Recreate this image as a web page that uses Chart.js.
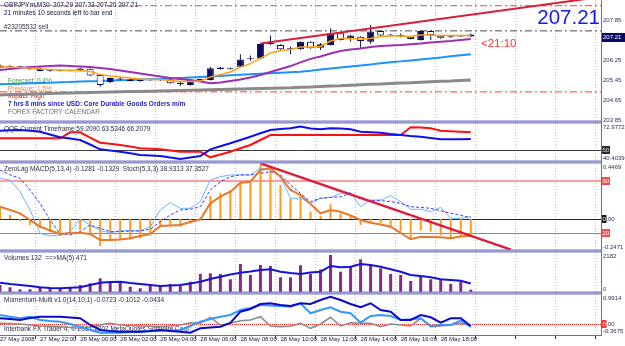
<!DOCTYPE html>
<html><head><meta charset="utf-8">
<script src="https://cdn.jsdelivr.net/npm/chart.js@4/dist/chart.umd.min.js"></script>
<style>html,body{margin:0;padding:0;background:#fff;overflow:hidden}canvas{display:block}</style>
</head><body>
<canvas id="c" width="625" height="346"></canvas>
<script>
// ---------- categories (30-minute bars) ----------
const times = ['27 May 20:00','27 May 20:30','27 May 21:00','27 May 21:30','27 May 22:00','27 May 22:30','27 May 23:00','27 May 23:30',
'28 May 00:00','28 May 00:30','28 May 01:00','28 May 01:30','28 May 02:00','28 May 02:30','28 May 03:00','28 May 03:30',
'28 May 04:00','28 May 04:30','28 May 05:00','28 May 05:30','28 May 06:00','28 May 06:30','28 May 07:00','28 May 07:30',
'28 May 08:00','28 May 08:30','28 May 09:00','28 May 09:30','28 May 10:00','28 May 10:30','28 May 11:00','28 May 11:30',
'28 May 12:00','28 May 12:30','28 May 13:00','28 May 13:30','28 May 14:00','28 May 14:30','28 May 15:00','28 May 15:30',
'28 May 16:00','28 May 16:30','28 May 17:00','28 May 17:30','28 May 18:00','28 May 18:30','28 May 19:00','28 May 19:30',
'28 May 20:00','28 May 20:30','28 May 21:00','28 May 21:30','28 May 22:00','28 May 22:30','28 May 23:00','28 May 23:30',
'29 May 00:00','29 May 00:30','29 May 01:00','29 May 01:30','29 May 02:00'];
const xTickText = ['27 May 2008','27 May 22:00','28 May 00:00','28 May 02:00','28 May 04:00','28 May 06:00','28 May 08:00','28 May 10:00','28 May 12:00','28 May 14:00','28 May 16:00','28 May 18:00'];

// ---------- price (GBPJPYm M30) ----------
const open  = [205.95,206.00,205.99,205.96,205.82,205.84,205.83,205.84,205.82,205.91,205.66,205.38,205.49,205.48,205.42,205.45,205.46,205.48,205.32,205.26,205.46,205.46,205.96,205.91,205.99,206.30,206.33,206.91,206.87,206.70,206.70,207.00,206.76,206.87,207.34,207.11,207.20,207.00,207.43,207.25,207.27,207.20,207.07,207.43,207.24,207.18,207.21,207.29];
const high  = [206.08,206.05,206.02,206.00,205.99,205.88,205.87,205.88,205.95,205.93,205.68,205.56,205.55,205.50,205.46,205.49,205.50,205.50,205.39,205.48,205.50,205.99,205.99,205.95,206.50,206.45,206.93,207.25,206.90,206.80,207.02,207.02,206.95,207.55,207.36,207.27,207.22,207.68,207.46,207.31,207.33,207.22,207.46,207.45,207.26,207.23,207.28,207.33];
const low   = [205.92,205.95,205.93,205.87,205.80,205.79,205.80,205.80,205.80,205.62,205.19,205.34,205.44,205.40,205.39,205.42,205.42,205.31,205.22,205.24,205.42,205.44,205.88,205.88,205.97,206.24,206.30,206.87,206.68,206.50,206.68,206.72,206.67,206.85,207.05,207.00,206.74,206.92,207.22,207.23,207.17,207.09,207.05,207.07,207.12,207.16,207.19,207.20];
const close = [206.04,205.99,205.97,205.90,205.90,205.83,205.84,205.83,205.92,205.64,205.26,205.54,205.48,205.42,205.43,205.46,205.45,205.33,205.30,205.46,205.47,205.93,205.90,205.92,206.29,206.33,206.91,206.92,206.70,206.71,207.00,206.74,206.90,207.34,207.07,207.25,207.03,207.41,207.25,207.28,207.23,207.11,207.43,207.27,207.14,207.20,207.26,207.21];

// moving averages on price
const maOrange = [205.98,205.98,205.96,205.94,205.90,205.88,205.86,205.84,205.84,205.80,205.68,205.62,205.58,205.54,205.50,205.48,205.48,205.44,205.40,205.40,205.42,205.58,205.68,205.78,205.98,206.12,206.33,206.55,206.65,206.69,206.79,206.79,206.81,207.03,207.13,207.13,207.11,207.13,207.21,207.23,207.23,207.21,207.27,207.27,207.25,207.25,207.25,207.25];
const maPurple = [205.86,205.90,205.94,205.98,206.00,206.02,206.04,206.02,206.00,205.98,205.94,205.90,205.84,205.78,205.72,205.66,205.60,205.54,205.50,205.46,205.40,205.33,205.36,205.42,205.48,205.56,205.66,205.78,205.90,206.02,206.17,206.31,206.41,206.53,206.63,206.69,206.73,206.79,206.83,206.85,206.87,206.90,206.93,206.97,207.00,207.03,207.07,207.11];
const maBlue   = [205.29,205.30,205.31,205.33,205.34,205.35,205.37,205.38,205.40,205.41,205.42,205.44,205.45,205.46,205.48,205.49,205.50,205.52,205.54,205.56,205.58,205.60,205.62,205.65,205.67,205.69,205.71,205.73,205.75,205.77,205.79,205.83,205.88,205.92,205.96,206.00,206.04,206.08,206.13,206.17,206.21,206.25,206.29,206.33,206.37,206.42,206.46,206.50];
const maGray   = [204.85,204.87,204.87,204.89,204.90,204.91,204.92,204.93,204.94,204.95,204.96,204.97,204.98,204.99,205.00,205.01,205.02,205.03,205.04,205.05,205.06,205.07,205.08,205.09,205.10,205.11,205.12,205.13,205.14,205.15,205.17,205.18,205.20,205.22,205.23,205.25,205.27,205.29,205.30,205.32,205.34,205.35,205.37,205.39,205.41,205.42,205.44,205.46];

// chart objects on price window: [barIndex, price]
const priceTrend = [[26, 206.93], [60, 208.81]];
const priceLevels = [208.455, 204.98];   // red dash-dot lines
const orderLevel = 207.44;               // #23205532 sell
const priceTicks = [207.85, 207.05, 206.25, 205.45, 204.65, 203.85];
const lastPrice = 207.21;

// ---------- QQE ----------
const qqeFast = [66.38,66.72,66.98,66.30,65.52,63.12,60.72,59.61,58.41,54.55,50.44,49.41,48.38,47.01,45.56,45.13,44.70,43.41,42.13,43.41,44.70,50.44,53.01,55.58,58.41,61.24,64.15,66.98,67.84,68.44,69.98,68.27,67.58,68.44,68.27,67.58,65.52,65.10,64.67,63.55,62.70,61.84,61.24,60.12,59.01,59.01,59.10,59.21];
const qqeSlow = [59.87,59.87,59.87,59.87,59.87,59.87,59.87,65.01,65.01,60.50,56.10,55.15,54.13,52.75,51.30,50.87,50.44,49.41,48.38,48.38,48.38,43.58,45.98,48.38,51.30,54.13,58.41,62.70,62.70,62.70,62.70,62.70,62.70,62.70,62.70,62.70,62.70,62.70,62.70,62.70,62.70,69.29,69.12,68.44,66.38,65.95,65.44,65.01];
const qqeLevels = [50];
const qqeLabels = ['72.9772', '40.4039'];

// ---------- ZeroLag MACD + Stoch ----------
const macdHist = [0.0854,0.0319,-0.0160,-0.0479,-0.0742,-0.1013,-0.1356,-0.1141,-0.0877,-0.1197,-0.2154,-0.1675,-0.1675,-0.1619,-0.1540,-0.1141,-0.0479,-0.0479,-0.0614,-0.0295,0.0080,0.1835,0.2098,0.2313,0.2848,0.2975,0.4308,0.3909,0.2712,0.1651,0.1914,0.0582,0.0239,0.1173,0.0455,0.0319,-0.0479,-0.0215,-0.0343,-0.0614,-0.1013,-0.1675,-0.0933,-0.1013,-0.1276,-0.1540,-0.1412,-0.1281];
const macdSignal = [0.0981,0.0718,0.0455,-0.0080,-0.0614,-0.0917,-0.1197,-0.1141,-0.1093,-0.1197,-0.1675,-0.1675,-0.1635,-0.1540,-0.1356,-0.1197,-0.0558,-0.0519,-0.0479,-0.0239,-0.0024,0.1252,0.1779,0.2178,0.2896,0.2975,0.3909,0.4068,0.3374,0.2313,0.1914,0.1197,0.0455,0.0718,0.0582,0.0279,-0.0080,-0.0295,-0.0439,-0.0614,-0.1117,-0.1619,-0.1412,-0.1436,-0.1460,-0.1540,-0.1396,-0.1329];
const stochMain = [83.0,81.1,67.6,46.5,19.6,16.5,17.6,21.5,35.8,29.2,22.6,20.3,22.6,22.6,22.3,27.2,46.5,54.9,48.4,48.4,56.1,81.1,84.9,86.9,86.9,86.9,94.6,92.6,84.9,60.0,60.0,54.2,60.0,61.1,65.7,66.4,50.3,58.0,58.0,63.0,56.1,47.3,47.3,44.5,49.6,36.9,36.9,38.93];
const stochSignal = [92.6,86.9,83.0,69.6,54.2,34.9,18.8,17.6,21.5,29.2,25.4,21.5,21.5,22.3,22.3,24.2,33.0,40.7,46.5,47.3,50.3,69.6,79.1,84.9,86.9,86.9,88.8,90.7,86.9,75.3,65.7,56.1,60.0,60.9,61.8,65.7,58.8,57.2,57.2,56.1,54.2,50.3,49.4,48.4,45.6,42.7,40.4,37.35];
const macdTrend = [[26, 0.444], [51, -0.244]];
const stochLevels = [80, 20];
const macdLabels = ['0.4469', '-0.2471'];

// ---------- Volumes ----------
const volumes = [392,263,151,151,263,207,207,263,392,487,767,576,520,297,207,336,297,448,336,576,1007,1046,1007,711,1567,951,1511,1455,822,822,1494,1007,1259,2070,1136,1455,1830,1511,1326,1007,951,615,895,711,711,448,576,132];
const volumeMA = [520,448,392,336,263,224,207,235,263,392,520,560,576,504,448,392,336,364,392,476,576,727,856,979,1080,1147,1231,1270,1136,1063,1007,1091,1136,1455,1382,1416,1567,1511,1416,1270,1136,951,895,822,711,671,632,471];
const volLabels = ['2182', '0'];

// ---------- Momentum-Multi ----------
const momA = [0.186,0.162,0.129,0.196,0.239,0.239,0.239,0.212,0.186,-0.036,-0.202,-0.235,-0.259,-0.259,-0.259,-0.235,-0.202,-0.235,-0.259,-0.292,-0.146,-0.119,-0.093,0.030,0.404,0.494,0.660,0.683,0.627,0.593,0.683,0.660,0.792,0.902,0.792,0.660,0.550,0.683,0.461,0.404,0.129,0.129,0.295,0.219,0.040,0.186,0.186,-0.0723];
const momB = [0.295,0.239,0.186,0.239,0.129,0.096,0.073,-0.003,-0.093,-0.202,-0.292,-0.292,-0.292,-0.268,-0.259,-0.242,-0.225,-0.212,-0.202,-0.070,0.073,0.162,0.239,0.295,0.461,0.527,0.627,0.610,0.593,0.570,0.683,0.351,0.461,0.550,0.404,0.351,0.040,0.262,0.295,0.262,0.129,0.152,0.186,-0.070,-0.036,-0.036,0.106,-0.1012];
const momC = [0.020,0.010,-0.003,-0.036,-0.070,-0.080,-0.093,-0.119,-0.146,-0.103,-0.036,0.020,-0.036,-0.053,-0.070,-0.080,-0.093,-0.070,-0.036,0.040,0.020,0.219,-0.036,0.020,0.106,0.129,0.239,-0.070,-0.093,-0.080,0.020,-0.146,-0.003,0.219,-0.070,0.040,0.020,0.020,-0.093,-0.003,-0.036,-0.070,0.186,-0.093,-0.070,-0.036,0.020,-0.0434];
const momLabels = ['0.9914', '-0.3675'];

// ---------- texts ----------
const headerLines = ['GBPJPYm,M30  207.29 207.33 207.20 207.21', '21 minutes 10 seconds left to bar end'];
const orderText = '#23205532 sell';
const newsLines = ['Forecast: 0.4%', 'Previous: 1.5%', 'Impact: High', '7 hrs 8 mins since USD: Core Durable Goods Orders m/m', 'FOREX FACTORY CALENDAR'];
const paneTitles = ['QQE Current Timeframe 59.2090 63.5346 66.2079', 'ZeroLag MACD(5,13,4) -0.1281 -0.1329  Stoch(5,3,3) 38.9313 37.3527', 'Volumes 132  ==>MA(5) 471', 'Momentum-Multi v1.0(14,10,1) -0.0723 -0.1012 -0.0434'];
const copyrightText = 'Interbank FX Trader 4, \u00a9 2001-2007 MetaQuotes Software Corp.';
const bigPriceText = '207.21';
const countdownText = '<21:10';

// ---------- build chart ----------
const FONT = '"Liberation Sans", Arial, sans-serif';
const AX = 6;   // axis label font size
const NAVY = '#0c0c5e';
const fullLine = v => times.map(() => v);
const segment = pts => { const a = times.map(() => null); pts.forEach(p => { a[p[0]] = p[1]; }); return a; };
const wicks = low.map((l, i) => [l, high[i]]);
const bodies = open.map((o, i) => [Math.min(o, close[i]), Math.max(o, close[i])]);

function line(data, color, width, axis, order, extra) {
  return Object.assign({type: 'line', data, borderColor: color, borderWidth: width, yAxisID: axis,
    pointRadius: 0, pointHoverRadius: 0, tension: 0, fill: false, order, spanGaps: false}, extra || {});
}
const fixW = sc => { sc.width = 24; sc.paddingTop = 0; sc.paddingBottom = 0; sc.paddingLeft = 0; sc.paddingRight = 0; };
function paneAxis(weight, min, max, extra) {
  return Object.assign({
    type: 'linear', position: 'right', stack: 'panes', stackWeight: weight, min, max, offset: false,
    grid: {display: false, drawTicks: false},
    border: {display: true, color: '#6b6bb3', width: 1},
    ticks: {display: false},
    afterFit: fixW
  }, extra || {});
}

function txt(ctx, s, x, y, color, size, weight, align, base) {
  ctx.font = (weight || 'normal') + ' ' + size + 'px ' + FONT;
  ctx.fillStyle = color;
  ctx.textAlign = align || 'left';
  ctx.textBaseline = base || 'middle';
  ctx.fillText(s, x, y);
}
function hline(ctx, scale, v, R, color, w, dash) {
  const y = Math.round(scale.getPixelForValue(v)) + (w % 2 ? 0.5 : 0);
  ctx.save(); ctx.strokeStyle = color; ctx.lineWidth = w; ctx.setLineDash(dash || []);
  ctx.beginPath(); ctx.moveTo(0, y); ctx.lineTo(R, y); ctx.stroke(); ctx.restore();
}
function levelBox(ctx, y, label, bg, fg, w) {
  ctx.fillStyle = bg; ctx.fillRect(602, Math.round(y) - 4, w, 8);
  txt(ctx, label, 602.5, Math.round(y) + 0.5, fg, AX);
}

const mtPlugin = {
  id: 'mt',
  afterLayout(chart) {
    const s = chart.scales;
    s.yStoch.top = s.yMacd.top; s.yStoch.bottom = s.yMacd.bottom;
    s.yStoch.height = s.yMacd.height;
    s.yStoch.configure();
  },
  beforeDatasetsDraw(chart) {
    const ctx = chart.ctx, s = chart.scales, R = s.x.right;
    ctx.save();
    // indicator levels
    qqeLevels.forEach(v => hline(ctx, s.yQqe, v, R, '#3a3a3a', 1));
    hline(ctx, s.yMacd, 0, R, '#262626', 1);
    hline(ctx, s.yStoch, stochLevels[0], R, '#ff9c9c', 2);
    hline(ctx, s.yStoch, stochLevels[1], R, '#ff5a5a', 1);
    hline(ctx, s.yMom, 0, R, '#ff2020', 1, [1, 1]);
    // main window texts
    txt(ctx, headerLines[0], 4, 5, '#101040', 6.5);
    txt(ctx, headerLines[1], 4, 13, '#101040', 6.5);
    txt(ctx, orderText, 4, 27, '#303040', 6.5);
    const newsCol = ['#3f9a3f', '#f08040', '#c82020', '#2424c8', '#707070'];
    newsLines.forEach((t, i) => txt(ctx, t, 8, 81.5 + i * 7.6, newsCol[i], 6.5, i === 3 ? 'bold' : 'normal'));
    // sub window titles
    [s.yQqe, s.yMacd, s.yVol, s.yMom].forEach((sc, i) => txt(ctx, paneTitles[i], 4, sc.top + 7.5, '#2a2a4a', 6.5));
    txt(ctx, copyrightText, 4, 329.5, '#2a2a4a', 6.5);
    ctx.restore();
  },
  afterDraw(chart) {
    const ctx = chart.ctx, s = chart.scales, R = s.x.right;
    ctx.save();
    // window separators
    [s.yQqe.top, s.yMacd.top, s.yVol.top, s.yMom.top].forEach(y => {
      ctx.fillStyle = '#7a7abf'; ctx.fillRect(0, Math.round(y) - 1.5, R, 3);
      ctx.fillStyle = '#b8b8e4'; ctx.fillRect(0, Math.round(y) - 0.5, R, 1);
    });
    // sub window scale extremes
    const lc = '#2e2e5c';
    [[s.yQqe, qqeLabels], [s.yMacd, macdLabels], [s.yVol, volLabels], [s.yMom, momLabels]].forEach(([sc, lab]) => {
      txt(ctx, lab[0], 603, sc.top + 2, lc, AX, 'normal', 'left', 'top');
      txt(ctx, lab[1], 603, sc.bottom - 1, lc, AX, 'normal', 'left', 'bottom');
    });
    txt(ctx, '0.00', 603, s.yMacd.getPixelForValue(0) + 0.5, lc, AX);
    txt(ctx, '0.00', 603, s.yMom.getPixelForValue(0) + 0.5, lc, AX);
    // level markers
    levelBox(ctx, s.yQqe.getPixelForValue(qqeLevels[0]), String(qqeLevels[0]), '#2c2c2c', '#dddddd', 8);
    levelBox(ctx, s.yStoch.getPixelForValue(stochLevels[0]), String(stochLevels[0]), '#ff4a4a', '#ffffff', 8);
    levelBox(ctx, s.yStoch.getPixelForValue(stochLevels[1]), String(stochLevels[1]), '#ff4a4a', '#ffffff', 8);
    levelBox(ctx, s.yMacd.getPixelForValue(0), '0', '#1a1a1a', '#ffffff', 4.5);
    levelBox(ctx, s.yMom.getPixelForValue(0), '0', '#ff3030', '#ffffff', 4.5);
    // current price marker
    const py = Math.round(s.yMain.getPixelForValue(lastPrice));
    ctx.fillStyle = '#0a0a64'; ctx.fillRect(602, py - 4, 23, 9);
    txt(ctx, lastPrice.toFixed(2), 603, py + 0.5, '#ffffff', AX);
    // big price & countdown
    txt(ctx, bigPriceText, 600, 18, '#1818f0', 20.5, 'normal', 'right');
    txt(ctx, countdownText, 481, 43.5, '#ff3030', 11.5);
    ctx.restore();
  }
};

new Chart(document.getElementById('c'), {
  type: 'bar',
  data: {
    labels: times,
    datasets: [
      // ---- main window
      line(segment(priceTrend), '#dc1e3c', 2, 'yMain', 10, {spanGaps: true}),
      line(maOrange, '#ffa010', 1.5, 'yMain', 12),
      line(maPurple, '#9b30b0', 2, 'yMain', 13),
      {type: 'bar', data: bodies, yAxisID: 'yMain', grouped: false, barThickness: 7, minBarLength: 1,
        backgroundColor: c => (close[c.dataIndex] >= open[c.dataIndex] ? NAVY : '#ffffff'),
        borderColor: NAVY, borderWidth: 1, borderSkipped: false, inflateAmount: 0, order: 14},
      {type: 'bar', data: wicks, yAxisID: 'yMain', grouped: false, barThickness: 1,
        backgroundColor: '#14144a', borderWidth: 0, inflateAmount: 0, order: 15},
      line(maBlue, '#1e90ff', 2, 'yMain', 16),
      line(maGray, '#8a8a8a', 3, 'yMain', 17),
      line(fullLine(orderLevel), '#4a4a4a', 1, 'yMain', 18, {borderDash: [7, 3, 2, 3]}),
      line(fullLine(priceLevels[0]), '#ff3a3a', 1, 'yMain', 18, {borderDash: [7, 3, 2, 3]}),
      line(fullLine(priceLevels[1]), '#ff3a3a', 1, 'yMain', 18, {borderDash: [7, 3, 2, 3]}),
      // ---- QQE
      line(qqeSlow, '#ff1010', 2, 'yQqe', 21),
      line(qqeFast, '#1010e8', 2, 'yQqe', 20),
      // ---- MACD + stoch
      line(segment(macdTrend), '#dc1e3c', 2.5, 'yMacd', 30, {spanGaps: true}),
      line(macdSignal, '#e8782a', 2, 'yMacd', 31),
      line(stochSignal, '#3a3aff', 1, 'yStoch', 32, {borderDash: [3, 2]}),
      line(stochMain, '#6ab4ff', 1, 'yStoch', 33),
      {type: 'bar', data: macdHist, yAxisID: 'yMacd', grouped: false, barThickness: 2,
        backgroundColor: '#ff9a1a', borderWidth: 0, inflateAmount: 0, order: 34},
      // ---- Volumes
      line(volumeMA, '#1414d8', 2, 'yVol', 40),
      {type: 'bar', data: volumes, yAxisID: 'yVol', grouped: false, barThickness: 3,
        backgroundColor: '#86298a', borderWidth: 0, inflateAmount: 0, order: 41},
      // ---- Momentum
      line(momC, '#8a8a8a', 1.5, 'yMom', 52),
      line(momB, '#3399ff', 2, 'yMom', 51),
      line(momA, '#0a0acc', 2, 'yMom', 50)
    ]
  },
  options: {
    responsive: false, animation: false, devicePixelRatio: 1, events: [],
    layout: {padding: 0},
    plugins: {legend: {display: false}, tooltip: {enabled: false}, title: {display: false}},
    scales: {
      x: {
        type: 'category', position: 'bottom', offset: false,
        grid: {
          display: true, drawOnChartArea: true, drawTicks: true, tickLength: 4,
          color: '#bcbcbc', lineWidth: c => (c.index % 4 === 0 ? 1 : 0),
          tickColor: '#30305a', tickWidth: c => (c.index % 4 === 0 ? 1 : 0)
        },
        border: {display: true, color: '#6b6bb3', width: 1, dash: [1, 2]},
        ticks: {
          autoSkip: false, maxRotation: 0, minRotation: 0, align: 'start', padding: -3,
          color: '#20204a', font: {family: FONT, size: 6},
          callback: (v, i) => (i % 4 === 0 && i / 4 < xTickText.length ? xTickText[i / 4] : '')
        },
        afterFit: sc => { sc.height = 11; sc.paddingLeft = 0; sc.paddingRight = 0; }
      },
      yMain: paneAxis(122, 203.765, 208.685, {
        ticks: {display: true, autoSkip: false, padding: 2, color: '#2e2e5c', font: {family: FONT, size: AX},
          callback: v => Number(v).toFixed(2)},
        afterBuildTicks: ax => { ax.ticks = priceTicks.map(v => ({value: v})); }
      }),
      yQqe: paneAxis(40, 39.56, 73.84),
      yMacd: paneAxis(89, -0.2553, 0.4547),
      yVol: paneAxis(42, -56, 2294),
      yMom: paneAxis(42, -0.368, 1.024),
      yStoch: {type: 'linear', position: 'right', display: false, min: -0.8, max: 101.8}
    }
  },
  plugins: [mtPlugin]
});
</script>
</body></html>
